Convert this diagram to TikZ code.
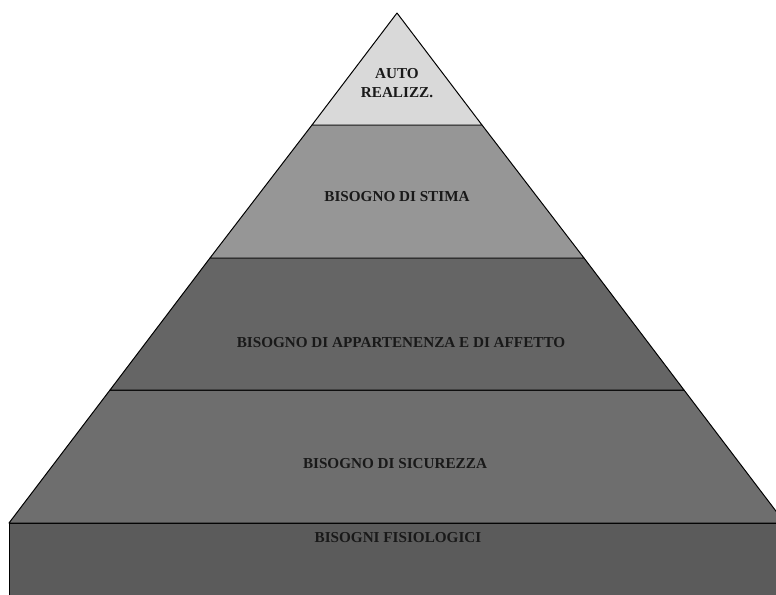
\documentclass[tikz,border=0pt]{standalone}
\usepackage{fontspec}
\setmainfont{Liberation Serif}
\usetikzlibrary{calc}

\definecolor{autoGray}{HTML}{D9D9D9}
\definecolor{stimaGray}{HTML}{969696}
\definecolor{affettoGray}{HTML}{656565}
\definecolor{sicurGray}{HTML}{6E6E6E}
\definecolor{fisioGray}{HTML}{5B5B5B}

\begin{document}
\begin{tikzpicture}[x=0.025cm, y=-0.025cm,
    tier/.style={draw=black, line width=0.7pt, line join=round},
    lbl/.style={font=\fontsize{10.8}{13.5}\selectfont\bfseries, text=black!90, inner sep=0pt, align=center}]
      \useasboundingbox (0,0) rectangle (776,594);
      \clip (0,0) rectangle (776,594);

      % corners of the tiers
      \coordinate (apex) at (397,13);
      \coordinate (l1) at (312,125); \coordinate (r1) at (482,125);
      \coordinate (l2) at (210,258); \coordinate (r2) at (584,258);
      \coordinate (l3) at (110,390); \coordinate (r3) at (684,390);
      \coordinate (l4) at (9,523);   \coordinate (r4) at (785,523);

      \filldraw[tier, fill=fisioGray] (l4) rectangle (800,610);
      \filldraw[tier, fill=sicurGray] (l3) -- (r3) -- (r4) -- (l4) -- cycle;
      \filldraw[tier, fill=affettoGray] (l2) -- (r2) -- (r3) -- (l3) -- cycle;
      \filldraw[tier, fill=stimaGray] (l1) -- (r1) -- (r2) -- (l2) -- cycle;
      \filldraw[tier, fill=autoGray] (apex) -- (r1) -- (l1) -- cycle;

      \node[lbl] (auto) at (397,83) {AUTO\\REALIZZ.};
      \node[lbl] (stima) at (397,197) {BISOGNO DI STIMA};
      \node[lbl] (affetto) at (401,343) {BISOGNO DI APPARTENENZA E DI AFFETTO};
      \node[lbl] (sicur) at (395,464) {BISOGNO DI SICUREZZA};
      \node[lbl] (fisio) at (398,538) {BISOGNI FISIOLOGICI};
    \end{tikzpicture}
\end{document}
